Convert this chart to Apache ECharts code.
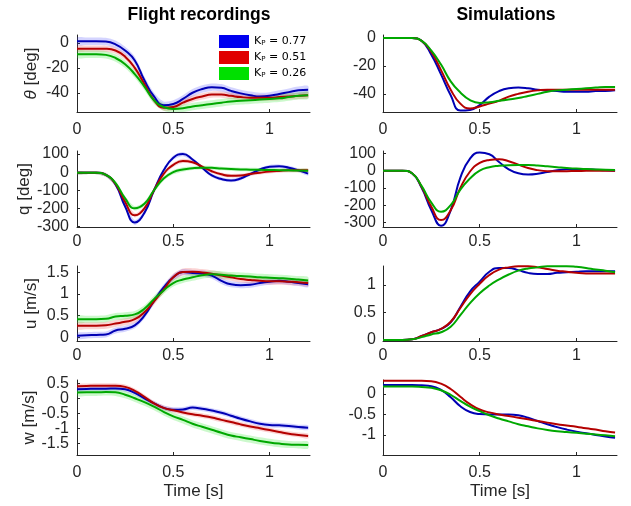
<!DOCTYPE html>
<html><head><meta charset="utf-8">
<script src="https://cdn.jsdelivr.net/npm/echarts@6/dist/echarts.min.js"></script>
<style>html,body{margin:0;padding:0;background:#fff}#c{width:631px;height:506px}</style>
</head><body><div id="c"></div>
<script>
// ---- data ----
const time = [0,0.05,0.1,0.15,0.2,0.25,0.3,0.35,0.4,0.45,0.5,0.55,0.6,0.65,0.7,0.75,0.8,0.85,0.9,0.95,1.0,1.05,1.1,1.15,1.2];
const kpValues = ['0.77','0.51','0.26'];

// Flight recordings (mean) and spread
const thetaFlight077 = [1.5,1.5,1.5,1.2,-1,-6,-14,-30,-43,-50,-49,-45,-40,-37,-35.5,-36,-38.5,-40.5,-42,-43,-42.5,-41,-39.5,-38,-37.5];
const thetaFlight051 = [-4.5,-4.5,-4.5,-4.6,-6,-11,-20,-33,-46,-52,-51.5,-48,-45,-43,-41.5,-41.5,-42.5,-43.5,-44,-44,-44,-43.5,-43,-42.5,-42];
const thetaFlight026 = [-9,-9,-9,-9.5,-12,-17,-25,-35,-46,-51.5,-53,-52.5,-51,-50,-49,-48,-47,-46.5,-46,-45.5,-45,-44.5,-43.5,-42.5,-42];
const thetaSpread077 = [3,3,3,3,3,3,3,3,3,3,3,3,3,3,3,3,3,3,3,3,3,3,3,3,3];
const thetaSpread051 = [2.5,2.5,2.5,2.5,2.5,2.5,2.5,2.5,2.5,2.5,2.5,2.5,2.5,2.5,2.5,2.5,2.5,2.5,2.5,2.5,2.5,2.5,2.5,2.5,2.5];
const thetaSpread026 = [3,3,3,3,3,3,3,3,3,3,3,3,3,3,3,3,3,3,3,3,3,3,3,3,3];

const qFlight077 = [-3,-3,-3,-15,-68,-190,-278,-225,-100,10,80,100,70,25,-18,-38,-46,-35,-10,15,30,33,25,10,-8];
const qFlight051 = [-3,-3,-3,-15,-65,-165,-238,-200,-100,-10,40,62,55,30,5,-12,-20,-18,-10,-3,3,7,10,10,10];
const qFlight026 = [-3,-3,-3,-15,-60,-145,-200,-175,-100,-35,0,15,22,25,24,20,17,15,14,13,12,11,10,9,8];
const qSpread077 = [8,8,8,10,12,14,14,12,12,12,12,12,10,10,10,10,10,10,10,10,10,10,10,10,10];
const qSpread051 = [8,8,8,10,12,12,12,12,12,12,12,12,10,10,10,10,10,10,10,10,10,10,10,10,10];
const qSpread026 = [8,8,8,10,12,12,12,12,12,12,12,12,10,10,10,10,10,10,10,10,10,10,10,10,10];

const uFlight077 = [0.04,0.05,0.06,0.07,0.16,0.2,0.28,0.5,0.84,1.15,1.38,1.5,1.48,1.47,1.42,1.3,1.22,1.2,1.21,1.25,1.28,1.3,1.28,1.25,1.22];
const uFlight051 = [0.27,0.27,0.27,0.28,0.32,0.36,0.42,0.58,0.83,1.1,1.38,1.5,1.51,1.49,1.46,1.42,1.38,1.34,1.32,1.3,1.29,1.29,1.28,1.27,1.25];
const uFlight026 = [0.42,0.42,0.42,0.43,0.48,0.5,0.53,0.66,0.88,1.08,1.25,1.33,1.38,1.43,1.45,1.44,1.42,1.41,1.4,1.38,1.37,1.36,1.35,1.33,1.31];
const uSpread077 = [0.07,0.07,0.07,0.07,0.07,0.07,0.07,0.07,0.07,0.07,0.07,0.07,0.07,0.07,0.07,0.07,0.07,0.07,0.07,0.07,0.07,0.07,0.07,0.07,0.07];
const uSpread051 = [0.08,0.08,0.08,0.08,0.08,0.08,0.08,0.08,0.08,0.08,0.08,0.08,0.08,0.08,0.08,0.08,0.08,0.08,0.08,0.08,0.08,0.08,0.08,0.08,0.08];
const uSpread026 = [0.08,0.08,0.08,0.08,0.08,0.08,0.08,0.08,0.08,0.08,0.08,0.08,0.08,0.08,0.08,0.08,0.08,0.08,0.08,0.08,0.08,0.08,0.08,0.08,0.08];

const wFlight077 = [0.3,0.31,0.32,0.32,0.33,0.3,0.18,0.0,-0.17,-0.32,-0.38,-0.37,-0.31,-0.35,-0.41,-0.48,-0.58,-0.68,-0.77,-0.85,-0.89,-0.9,-0.92,-0.96,-0.98];
const wFlight051 = [0.4,0.41,0.42,0.42,0.42,0.38,0.25,0.05,-0.17,-0.32,-0.4,-0.47,-0.53,-0.58,-0.64,-0.72,-0.79,-0.87,-0.94,-1.0,-1.06,-1.12,-1.18,-1.22,-1.26];
const wFlight026 = [0.19,0.2,0.2,0.21,0.2,0.12,0.0,-0.13,-0.28,-0.45,-0.6,-0.72,-0.85,-0.95,-1.05,-1.15,-1.24,-1.3,-1.36,-1.42,-1.47,-1.51,-1.54,-1.55,-1.56];
const wSpread077 = [0.08,0.08,0.08,0.08,0.08,0.08,0.08,0.08,0.08,0.08,0.08,0.08,0.08,0.08,0.08,0.08,0.08,0.08,0.08,0.08,0.08,0.08,0.08,0.08,0.08];
const wSpread051 = [0.08,0.08,0.08,0.08,0.08,0.08,0.08,0.08,0.08,0.08,0.08,0.08,0.08,0.08,0.08,0.08,0.08,0.08,0.08,0.08,0.08,0.08,0.08,0.08,0.08];
const wSpread026 = [0.12,0.12,0.12,0.12,0.12,0.12,0.12,0.12,0.12,0.12,0.12,0.12,0.12,0.12,0.12,0.12,0.12,0.12,0.12,0.12,0.12,0.12,0.12,0.12,0.12];

// Simulations
const thetaSim077 = [0,0,0,0,-2,-12,-26,-41,-52,-51.5,-48,-42,-38,-36,-35.5,-36,-37,-37.5,-38,-38.5,-38.5,-38.5,-38,-38,-37.5];
const thetaSim051 = [0,0,0,0,-2,-10,-23,-37,-47,-50.5,-49,-47,-45,-42,-40,-38.5,-37.5,-37,-37,-37,-37,-37,-37,-37,-37];
const thetaSim026 = [0,0,0,0,-2,-9,-19,-31,-39,-44.5,-46.5,-46,-45,-44,-43,-41.5,-40,-38.5,-37.5,-37,-36.5,-36,-35.5,-35,-35];

const qSim077 = [0,0,0,-15,-100,-230,-320,-230,-40,70,105,95,50,8,-15,-22,-18,-8,2,8,10,8,5,2,0];
const qSim051 = [0,0,0,-15,-95,-210,-287,-230,-100,-5,45,62,66,55,35,15,3,-3,-4,-3,-2,-1,0,0,0];
const qSim026 = [0,0,0,-15,-90,-185,-238,-200,-110,-45,0,20,28,32,33,33,30,25,20,15,12,9,7,5,4];

const uSim077 = [0,0,0,0.01,0.07,0.14,0.2,0.32,0.6,0.88,1.06,1.24,1.31,1.31,1.27,1.22,1.2,1.2,1.22,1.23,1.24,1.25,1.25,1.25,1.25];
const uSim051 = [0,0,0,0.01,0.07,0.14,0.2,0.33,0.58,0.83,1.02,1.18,1.28,1.32,1.34,1.34,1.32,1.29,1.26,1.24,1.22,1.21,1.21,1.21,1.21];
const uSim026 = [0,0,0,0.01,0.05,0.1,0.14,0.24,0.45,0.67,0.85,0.99,1.1,1.19,1.26,1.3,1.32,1.34,1.34,1.34,1.33,1.31,1.28,1.26,1.23];

const wSim077 = [0.22,0.22,0.22,0.22,0.21,0.19,0.1,-0.08,-0.3,-0.44,-0.49,-0.5,-0.5,-0.5,-0.52,-0.58,-0.66,-0.74,-0.81,-0.87,-0.92,-0.96,-1.0,-1.04,-1.07];
const wSim051 = [0.32,0.32,0.32,0.32,0.32,0.31,0.25,0.12,-0.07,-0.25,-0.38,-0.45,-0.5,-0.54,-0.58,-0.62,-0.66,-0.7,-0.74,-0.77,-0.8,-0.84,-0.87,-0.91,-0.94];
const wSim026 = [0.18,0.18,0.18,0.18,0.17,0.15,0.09,-0.02,-0.17,-0.31,-0.42,-0.52,-0.6,-0.67,-0.74,-0.79,-0.84,-0.88,-0.91,-0.93,-0.95,-0.97,-0.99,-1.01,-1.03];

const xTicks = [0, 0.5, 1];
const thetaTicks = [-40, -20, 0];
const qTicks = [-300, -200, -100, 0, 100];
const uFlightTicks = [0, 0.5, 1, 1.5];
const uSimTicks = [0, 0.5, 1];
const wFlightTicks = [-1.5, -1, -0.5, 0, 0.5];
const wSimTicks = [-1, -0.5, 0];

// ---- styling ----
const FONT = '"Liberation Sans", Arial, sans-serif';
const AX = '#262626';
const lineColors = ['#0000b4', '#b40000', '#00a800'];
const legendColors = ['#0000f0', '#e00000', '#00e000'];
const bandColors = ['rgba(60,60,255,0.22)', 'rgba(235,60,60,0.22)', 'rgba(50,230,50,0.25)'];

const colLeft = [77, 383], colWidth = [233, 234];
const rowTop = [35, 151, 266, 380], rowHeight = [77, 76, 75, 75];
const xMargin = [10, 7, 7, 10];

const panels = [
  {row:0,col:0, means:[thetaFlight077,thetaFlight051,thetaFlight026], spreads:[thetaSpread077,thetaSpread051,thetaSpread026], min:-55.5, max:6.5, ticks:thetaTicks, name:'{i|θ} [deg]'},
  {row:0,col:1, means:[thetaSim077,thetaSim051,thetaSim026], min:-53, max:2.2, ticks:thetaTicks},
  {row:1,col:0, means:[qFlight077,qFlight051,qFlight026], spreads:[qSpread077,qSpread051,qSpread026], min:-303, max:117, ticks:qTicks, name:'q [deg]'},
  {row:1,col:1, means:[qSim077,qSim051,qSim026], min:-327, max:114, ticks:qTicks},
  {row:2,col:0, means:[uFlight077,uFlight051,uFlight026], spreads:[uSpread077,uSpread051,uSpread026], min:-0.08, max:1.64, ticks:uFlightTicks, name:'u [m/s]'},
  {row:2,col:1, means:[uSim077,uSim051,uSim026], min:-0.02, max:1.345, ticks:uSimTicks},
  {row:3,col:0, means:[wFlight077,wFlight051,wFlight026], spreads:[wSpread077,wSpread051,wSpread026], min:-1.89, max:0.61, ticks:wFlightTicks, name:'w [m/s]', splitLabels:true},
  {row:3,col:1, means:[wSim077,wSim051,wSim026], min:-1.49, max:0.34, ticks:wSimTicks}
];

function yAxisDef(p, gi, values, withLine) {
  return {
    gridIndex: gi, type: 'value', min: p.min, max: p.max, position: 'left', offset: 0,
    axisLine: {show: withLine, onZero: false, lineStyle: {color: AX, width: 1}},
    axisTick: {show: true, inside: true, length: 3, customValues: values, lineStyle: {color: AX}},
    axisLabel: {customValues: values, fontSize: 16, fontFamily: FONT, color: AX,
      margin: p.col === 0 ? 8 : 7, hideOverlap: false, showMinLabel: true, showMaxLabel: true},
    splitLine: {show: false}
  };
}

const grid = [], xAxis = [], yAxis = [], series = [];
panels.forEach((p, gi) => {
  grid.push({left: colLeft[p.col], top: rowTop[p.row], width: colWidth[p.col], height: rowHeight[p.row], containLabel: false});
  const xa = {
    gridIndex: gi, type: 'value', min: 0, max: 1.21,
    axisLine: {show: true, onZero: false, lineStyle: {color: AX, width: 1}},
    axisTick: {show: true, inside: true, length: 3, customValues: xTicks, lineStyle: {color: AX}},
    axisLabel: {customValues: xTicks, fontSize: 16, fontFamily: FONT, color: AX, margin: xMargin[p.row], hideOverlap: false},
    splitLine: {show: false}
  };
  if (p.row === 3) {
    xa.name = 'Time [s]'; xa.nameLocation = 'middle'; xa.nameGap = 28;
    xa.nameTextStyle = {fontSize: 17, fontFamily: FONT, color: AX};
  }
  xAxis.push(xa);

  // main y axis (with the densely packed labels split over two overlaid axes when needed)
  const mainTicks = p.splitLabels ? p.ticks.filter((v, i) => i % 2 === 0) : p.ticks;
  const ya = yAxisDef(p, gi, mainTicks, true);
  if (p.name) {
    ya.name = p.name; ya.nameLocation = 'middle'; ya.nameGap = 37; ya.nameRotate = 90;
    ya.nameTextStyle = {fontSize: 17, fontFamily: FONT, color: AX, rich: {i: {fontStyle: 'italic', fontSize: 17, fontFamily: FONT, color: AX}}};
  }
  const yIdx = yAxis.length;
  yAxis.push(ya);
  if (p.splitLabels) {
    yAxis.push(yAxisDef(p, gi, p.ticks.filter((v, i) => i % 2 === 1), false));
  }

  // shaded spread bands (drawn through the axis scales with api.coord)
  if (p.spreads) {
    p.means.forEach((m, si) => {
      const sp = p.spreads[si];
      series.push({
        type: 'custom', xAxisIndex: gi, yAxisIndex: yIdx, silent: true, clip: true, z: 1,
        data: [[time[0], m[0]]],
        renderItem: (params, api) => {
          const upper = time.map((t, k) => api.coord([t, m[k] + sp[k]]));
          const lower = time.map((t, k) => api.coord([t, m[k] - sp[k]])).reverse();
          return {type: 'polygon', shape: {points: upper.concat(lower), smooth: 0.25}, style: {fill: bandColors[si], stroke: null}};
        }
      });
    });
  }
  p.means.forEach((m, si) => {
    series.push({
      name: 'Kp' + kpValues[si],
      type: 'line', xAxisIndex: gi, yAxisIndex: yIdx,
      data: time.map((t, k) => [t, m[k]]), symbol: 'none', smooth: true,
      lineStyle: {color: lineColors[si], width: 2}, itemStyle: {color: lineColors[si]}, z: 3
    });
  });
});

const chart = echarts.init(document.getElementById('c'), null, {renderer: 'canvas'});
chart.setOption({
  animation: false,
  backgroundColor: '#fff',
  title: [
    {text: 'Flight recordings', left: 199, top: 6, padding: 0, textAlign: 'center', textStyle: {fontSize: 17.5, fontWeight: 'bold', fontFamily: FONT, color: '#000'}},
    {text: 'Simulations', left: 506, top: 6, padding: 0, textAlign: 'center', textStyle: {fontSize: 17.5, fontWeight: 'bold', fontFamily: FONT, color: '#000'}}
  ],
  legend: {
    orient: 'vertical', left: 219, top: 35, padding: 0, itemWidth: 30, itemHeight: 13, itemGap: 3,
    icon: 'rect', selectedMode: false, z: 10,
    data: kpValues.map((k, i) => ({name: 'Kp' + k, icon: 'rect', itemStyle: {color: legendColors[i], borderWidth: 0}})),
    formatter: name => 'K{s|P} = ' + name.slice(2),
    textStyle: {fontFamily: '"DejaVu Sans", Verdana, sans-serif', fontSize: 11, color: '#000',
      rich: {s: {fontFamily: '"DejaVu Sans", Verdana, sans-serif', fontSize: 7, verticalAlign: 'bottom', color: '#000'}}}
  },
  grid, xAxis, yAxis, series
});
</script></body></html>
